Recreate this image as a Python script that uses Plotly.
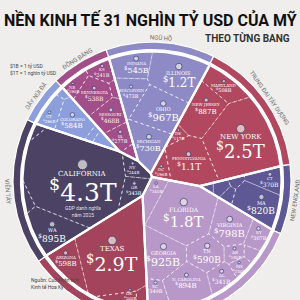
import math
import plotly.graph_objects as go

# ---------------- data ----------------
region_keys = ["plains", "lakes", "mideast", "newengland", "southeast", "southwest", "farwest", "rocky"]
region_names = ["ĐỒNG BẰNG", "NGŨ HỒ", "TRUNG ĐẠI TÂY DƯƠNG", "NEW ENGLAND", "ĐÔNG NAM", "TÂY NAM", "VIỄN TÂY", "DÃY NÚI ĐÁ"]

state_codes = ["IA", "MO", "MN", "NE", "KS", "SD", "ND",
               "MI", "WI", "IN", "OH", "IL",
               "DC", "NJ", "DE", "MD", "NY", "PA",
               "CT", "RI", "NH", "VT", "ME", "MA",
               "FL", "KY", "WV", "VA", "TN", "AR", "MS", "AL", "GA", "NC", "SC", "LA",
               "OK", "NM", "TX", "AZ",
               "OR", "WA", "HI", "CA", "AK", "NV",
               "UT", "CO", "ID", "MT", "WY"]
state_labels = ["IA", "MISSOURI", "MINNESOTA", "NE", "KS", "", "",
                "MICHIGAN", "WISCONSIN", "INDIANA", "OHIO", "ILLINOIS",
                "DC", "NEW JERSEY", "DE", "MARYLAND", "NEW YORK", "PENNSYLVANIA",
                "CT", "", "", "", "", "MA",
                "FLORIDA", "KY", "", "VIRGINIA", "TN", "AR", "MS", "AL", "GEORGIA", "N. CAROLINA", "SC", "LA",
                "OK", "", "TEXAS", "ARIZONA",
                "OR", "WA", "", "CALIFORNIA", "", "NV",
                "UT", "COLORADO", "", "", ""]
state_values = [277, 468, 538, 190, 241, 75, 72,          # billions USD
                730, 473, 545, 967, 1200,
                196, 887, 117, 508, 2500, 1100,
                370, 80, 119, 45, 94, 820,
                1800, 307, 103, 798, 590, 180, 150, 341, 925, 894, 349, 340,
                260, 140, 2900, 598,
                343, 895, 110, 4300, 70, 244,
                296, 584, 120, 70, 50]
state_regions = (["plains"] * 7 + ["lakes"] * 5 + ["mideast"] * 6 + ["newengland"] * 6 +
                 ["southeast"] * 12 + ["southwest"] * 4 + ["farwest"] * 6 + ["rocky"] * 5)

# ---------------- style ----------------
region_colors = {"plains": "#a24e89", "lakes": "#8e8ac6", "mideast": "#b2485f", "newengland": "#5e5895",
                 "southeast": "#b798c9", "southwest": "#a3435c", "farwest": "#4b4264", "rocky": "#8c9edb"}
BG = "#efeeec"
CX, CY = 152.0, 181.0
R_CELL = 129.5
R_RING_IN = 131.5
R_RING_OUT = 139.0
START_DEG = 316.0
SERIF = "DejaVu Serif"
SANS = "Roboto"


def pt(theta, r):
    t = math.radians(theta)
    return (CX + r * math.sin(t), CY - r * math.cos(t))


def clip(poly, ax, ay, b):
    out = []
    n = len(poly)
    for k in range(n):
        px, py = poly[k]
        qx, qy = poly[(k + 1) % n]
        dp = ax * px + ay * py - b
        dq = ax * qx + ay * qy - b
        if dp <= 0:
            out.append((px, py))
        if (dp < 0 < dq) or (dq < 0 < dp):
            t = dp / (dp - dq)
            out.append((px + t * (qx - px), py + t * (qy - py)))
    return out


def area_centroid(poly):
    n = len(poly)
    if n < 3:
        return 0.0, None
    A = cx = cy = 0.0
    for k in range(n):
        x0, y0 = poly[k]
        x1, y1 = poly[(k + 1) % n]
        c = x0 * y1 - x1 * y0
        A += c
        cx += (x0 + x1) * c
        cy += (y0 + y1) * c
    A *= 0.5
    if abs(A) < 1e-9:
        return 0.0, None
    return abs(A), (cx / (6 * A), cy / (6 * A))


def inside(poly, p):
    sgn = 0
    n = len(poly)
    for k in range(n):
        x0, y0 = poly[k]
        x1, y1 = poly[(k + 1) % n]
        c = (x1 - x0) * (p[1] - y0) - (y1 - y0) * (p[0] - x0)
        if abs(c) < 1e-12:
            continue
        s = 1 if c > 0 else -1
        if sgn == 0:
            sgn = s
        elif s != sgn:
            return False
    return True


def seg_dist(p, a, b):
    dx, dy = b[0] - a[0], b[1] - a[1]
    L = dx * dx + dy * dy
    t = 0.0 if L == 0 else max(0.0, min(1.0, ((p[0] - a[0]) * dx + (p[1] - a[1]) * dy) / L))
    qx, qy = a[0] + t * dx, a[1] + t * dy
    return math.hypot(p[0] - qx, p[1] - qy)


def pole(poly, step=2.0):
    xs = [p[0] for p in poly]
    ys = [p[1] for p in poly]
    best, bp = -1.0, None
    x = min(xs)
    while x <= max(xs):
        y = min(ys)
        while y <= max(ys):
            if inside(poly, (x, y)):
                d = min(seg_dist((x, y), poly[k], poly[(k + 1) % len(poly)]) for k in range(len(poly)))
                if d > best:
                    best, bp = d, (x, y)
            y += step
        x += step
    if bp is None:
        _, bp = area_centroid(poly)
        best = 1.0
    return bp, best


def power_cells(P, W, container):
    n = len(P)
    cells = []
    for i in range(n):
        xi, yi = P[i]
        ki = xi * xi + yi * yi - W[i]
        poly = list(container)
        for j in range(n):
            if j == i:
                continue
            xj, yj = P[j]
            ax, ay = 2 * (xj - xi), 2 * (yj - yi)
            if abs(ax) + abs(ay) < 1e-9:
                continue
            b = (xj * xj + yj * yj - W[j]) - ki
            poly = clip(poly, ax, ay, b)
            if len(poly) < 3:
                poly = []
                break
        cells.append(poly)
    return cells


def treemap(container, seeds, values, iters, move):
    n = len(seeds)
    P = [list(s) for s in seeds]
    W = [0.0] * n
    Atot, _ = area_centroid(container)
    s = float(sum(values))
    T = [v / s * Atot for v in values]
    for _ in range(iters):
        cells = power_cells(P, W, container)
        for i in range(n):
            A, c = area_centroid(cells[i])
            if move and c is not None:
                P[i] = [c[0], c[1]]
            W[i] += 0.8 * (T[i] - A) / math.pi
        m = sum(W) / n
        W = [w - m for w in W]
        for i in range(n):
            cap = min(W[j] + (P[i][0] - P[j][0]) ** 2 + (P[i][1] - P[j][1]) ** 2 for j in range(n) if j != i) if n > 1 else W[i]
            if W[i] > cap:
                W[i] = cap - 1e-6
    return power_cells(P, W, container), P, W


# ---------- level 1: regions ----------
circle = [pt(360.0 * k / 240, R_CELL) for k in range(240)]
region_totals = [sum(v for v, g in zip(state_values, state_regions) if g == key) for key in region_keys]
grand = float(sum(region_totals))
sites1 = []
acc = START_DEG
for tot in region_totals:
    span = 360.0 * tot / grand
    sites1.append(pt(acc + span / 2, 0.55 * R_CELL))
    acc += span
region_cells, P1, W1 = treemap(circle, sites1, region_totals, 220, move=False)

STEP = 0.5
angs = [k * STEP for k in range(int(360 / STEP))]
owner = []
for a in angs:
    x, y = pt(a, R_CELL - 0.5)
    best, bi = None, 0
    for i in range(len(P1)):
        d = (x - P1[i][0]) ** 2 + (y - P1[i][1]) ** 2 - W1[i]
        if best is None or d < best:
            best, bi = d, i
    owner.append(bi)
n_a = len(angs)
start = 0
for k in range(n_a):
    if owner[k] != owner[k - 1]:
        start = k
        break
runs = []
cur = owner[start]
run_s = 0
for step in range(1, n_a + 1):
    idx = (start + step) % n_a
    if step == n_a or owner[idx] != cur:
        a0 = (start + run_s) * STEP - STEP / 2
        a1 = (start + step) * STEP - STEP / 2
        runs.append((cur, a0, a1))
        cur = owner[idx]
        run_s = step
longest = {}
for (r, a0, a1) in runs:
    if r not in longest or (a1 - a0) > (longest[r][1] - longest[r][0]):
        longest[r] = (a0, a1)

# ---------- level 2: states inside regions ----------
state_cells = [None] * len(state_codes)
for r, key in enumerate(region_keys):
    idx = [k for k in range(len(state_codes)) if state_regions[k] == key]
    container = region_cells[r]
    _, cc = area_centroid(container)
    a0, a1 = longest.get(r, (0.0, 360.0))
    vals = [state_values[k] for k in idx]
    s = float(sum(vals))
    cum = 0.0
    seeds = []
    for v in vals:
        th = a0 + (a1 - a0) * (cum + v / 2) / s
        cum += v
        q = pt(th, 0.72 * R_CELL)
        for _ in range(40):
            if inside(container, q):
                break
            q = (cc[0] + 0.8 * (q[0] - cc[0]), cc[1] + 0.8 * (q[1] - cc[1]))
        seeds.append(q)
    cells, _, _ = treemap(container, seeds, vals, 180, move=True)
    for k, c in zip(idx, cells):
        state_cells[k] = c

# ---------------- figure ----------------
fig = go.Figure()


def closed(poly):
    return [p[0] for p in poly] + [poly[0][0]], [p[1] for p in poly] + [poly[0][1]]


wd = [pt(a, R_RING_IN) for a in range(0, 360, 2)]
xs, ys = closed(wd)
fig.add_trace(go.Scatter(x=xs, y=ys, mode="lines", fill="toself", fillcolor="white",
                         line=dict(width=0), hoverinfo="skip", showlegend=False))

for r, key in enumerate(region_keys):
    if len(region_cells[r]) < 3:
        continue
    xs, ys = closed(region_cells[r])
    fig.add_trace(go.Scatter(x=xs, y=ys, mode="lines", fill="toself", fillcolor=region_colors[key],
                             line=dict(width=0), hoverinfo="skip", showlegend=False))

for k, c in enumerate(state_cells):
    if c is None or len(c) < 3:
        continue
    xs, ys = closed(c)
    fig.add_trace(go.Scatter(x=xs, y=ys, mode="lines", line=dict(width=0.8, color="rgba(255,255,255,0.7)", dash="dot"),
                             hoverinfo="skip", showlegend=False))

for r, key in enumerate(region_keys):
    if len(region_cells[r]) < 3:
        continue
    xs, ys = closed(region_cells[r])
    fig.add_trace(go.Scatter(x=xs, y=ys, mode="lines", line=dict(width=2.2, color="white"),
                             hoverinfo="skip", showlegend=False))

for (r, a0, a1) in runs:
    n = max(2, int((a1 - a0) / 1.0) + 1)
    outer = [pt(a0 + (a1 - a0) * t / (n - 1), R_RING_OUT) for t in range(n)]
    inner = [pt(a1 - (a1 - a0) * t / (n - 1), R_RING_IN) for t in range(n)]
    xs, ys = closed(outer + inner)
    fig.add_trace(go.Scatter(x=xs, y=ys, mode="lines", fill="toself", fillcolor=region_colors[region_keys[r]],
                             line=dict(width=1.2, color="white"), hoverinfo="skip", showlegend=False))

for r, name in enumerate(region_names):
    if r not in longest:
        continue
    a0, a1 = longest[r]
    mid = (a0 + a1) / 2 % 360
    x, y = pt(mid, R_RING_OUT + 5)
    ang = mid if (mid <= 90 or mid >= 270) else mid - 180
    if ang >= 270:
        ang -= 360
    fig.add_annotation(x=x, y=y, text=name, textangle=round(ang), showarrow=False,
                       font=dict(family=SANS, size=6, color="#6b6b6b"))

# state labels fitted (as boxes) into the visible part of each cell
mk_x, mk_y, mk_s = [], [], []
for k, lab in enumerate(state_labels):
    if not lab or state_cells[k] is None or len(state_cells[k]) < 3:
        continue
    vis = clip(state_cells[k], 0, 1, 296)
    vis = clip(vis, 1, 0, 298) if len(vis) >= 3 else vis
    vis = clip(vis, -1, 0, -2) if len(vis) >= 3 else vis
    if len(vis) < 3:
        continue
    (lx, ly), rad = pole(vis, 1.5)
    v = state_values[k]
    val_txt = f"{v / 1000:.1f}T" if v >= 1000 else f"{v:.0f}B"
    fs0 = 6.0 + 5.0 * v / 1000
    ns0 = 4.4 + 0.9 * v / 1000
    ms0 = 3 + 0.3 * fs0
    sc = 1.0
    while sc > 0.3:
        fs, ns, ms = fs0 * sc, ns0 * sc, ms0 * sc
        w = max(0.76 * ns * len(lab), fs * (0.64 * len(val_txt) + 0.4))
        h = 1.2 * ns + 1.0 * fs + ms
        pts = [(lx + dx * w / 2, ly + dy * h / 2) for dx in (-1, 0, 1) for dy in (-1, 0, 1)]
        if all(inside(vis, p) for p in pts):
            break
        sc -= 0.05
    fs = max(4, round(fs0 * sc))
    ns = max(4, round(ns0 * sc))
    ms = max(2.5, ms0 * sc)
    hh = 1.2 * ns + 1.0 * fs + ms
    top = ly - hh / 2
    mk_x.append(lx)
    mk_y.append(top + ms / 2)
    mk_s.append(ms)
    ny = top + ms + 0.6 * ns
    vy = top + ms + 1.2 * ns + 0.5 * fs
    fig.add_annotation(x=lx, y=ny, text=lab, showarrow=False, yanchor="middle",
                       font=dict(family=SERIF, size=ns, color="#ffffff"))
    fig.add_annotation(x=lx, y=vy, text=f"<sup>$</sup>{val_txt}", showarrow=False, yanchor="middle",
                       font=dict(family=SERIF, size=fs, color="#ffffff"))
    if state_codes[k] == "CA":
        fig.add_annotation(x=lx, y=vy + 0.5 * fs + 8, text="GDP danh nghĩa<br>năm 2025",
                           showarrow=False, font=dict(family=SANS, size=5, color="rgba(255,255,255,0.85)"))

fig.add_trace(go.Scatter(x=mk_x, y=mk_y, mode="markers",
                         marker=dict(size=mk_s, color="#f3efe6", line=dict(width=1, color="#3b4a80")),
                         hoverinfo="skip", showlegend=False))

fig.add_annotation(x=150, y=20, text="<b>NỀN KINH TẾ 31 NGHÌN TỶ USD CỦA MỸ</b>", showarrow=False,
                   font=dict(family=SANS, size=16, color="#111111"))
fig.add_annotation(x=292, y=38, text="<b>THEO TỪNG BANG</b>", showarrow=False, xanchor="right",
                   font=dict(family=SANS, size=10, color="#333333"))
fig.add_annotation(x=8, y=66, text="$1B = 1 tỷ USD", showarrow=False, xanchor="left",
                   font=dict(family=SANS, size=5, color="#444444"))
fig.add_annotation(x=8, y=73, text="$1T = 1 nghìn tỷ USD", showarrow=False, xanchor="left",
                   font=dict(family=SANS, size=5, color="#444444"))
fig.add_annotation(x=29, y=283, text="Nguồn: Cục Phân tích<br>Kinh tế Hoa Kỳ", showarrow=False, xanchor="left",
                   align="left", font=dict(family=SANS, size=5, color="#444444"))

fig.update_layout(width=300, height=300, margin=dict(l=0, r=0, t=0, b=0),
                  paper_bgcolor=BG, plot_bgcolor=BG,
                  xaxis=dict(range=[0, 300], visible=False, fixedrange=True),
                  yaxis=dict(range=[300, 0], visible=False, fixedrange=True),
                  showlegend=False)
fig.write_html("out.html")
